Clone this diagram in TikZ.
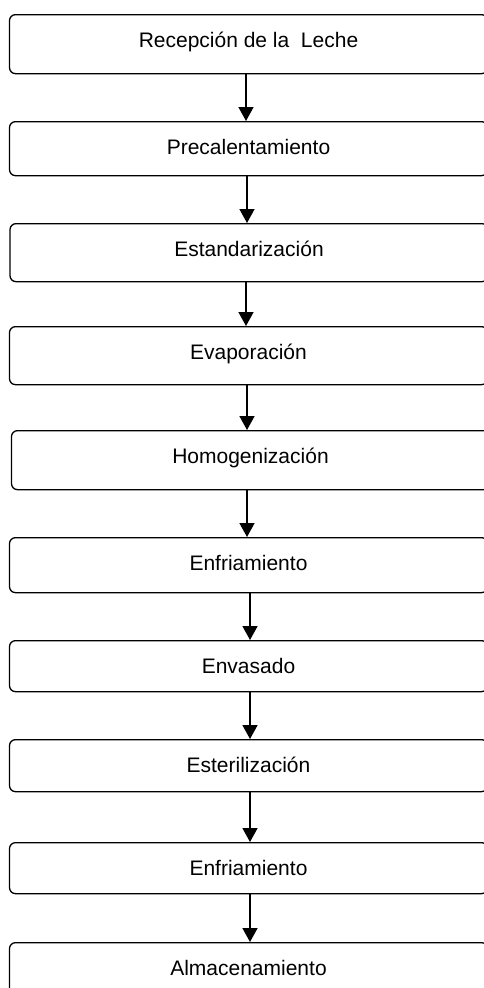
\documentclass[tikz,border=0pt]{standalone}
\usepackage{fontspec}
\setmainfont{Liberation Sans}
\usetikzlibrary{arrows.meta}
\tikzset{
  stage/.style={draw=black, line width=1.3pt, rounded corners=6pt, fill=white,
    minimum width=478pt, inner sep=0pt, anchor=north,
    text height=32.5pt, text depth=#1,
    font=\fontsize{21}{25}\selectfont},
  flow/.style={line width=1.6pt, -{Triangle[length=14pt,width=15pt]}}
}
\begin{document}
\begin{tikzpicture}[x=1pt,y=-1pt]
\clip (0,0) rectangle (484,988);
\fill[white] (0,0) rectangle (484,988);
\node[stage=26.5pt] (b1) at (248.5,14) {Recepción de la\ \ Leche};
\node[stage=21.5pt] (b2) at (248.5,121) {Precalentamiento};
\node[stage=25.5pt] (b3) at (249,223) {Estandarización};
\node[stage=25.5pt] (b4) at (248.5,326) {Evaporación};
\node[stage=26.5pt] (b5) at (250.5,430) {Homogenización};
\node[stage=22.5pt] (b6) at (248.5,537) {Enfriamiento};
\node[stage=18.5pt] (b7) at (248.5,640) {Envasado};
\node[stage=19.5pt] (b8) at (248.5,739) {Esterilización};
\node[stage=18.5pt] (b9) at (248.5,842) {Enfriamiento};
\node[stage=25.5pt] (b10) at (248.5,942) {Almacenamiento};
\draw[flow] (b1.south -| 246,0) -- (b2.north -| 246,0);
\draw[flow] (b2.south -| 247,0) -- (b3.north -| 247,0);
\draw[flow] (b3.south -| 246,0) -- (b4.north -| 246,0);
\draw[flow] (b4.south -| 247,0) -- (b5.north -| 247,0);
\draw[flow] (b5.south -| 247,0) -- (b6.north -| 247,0);
\draw[flow] (b6.south -| 250,0) -- (b7.north -| 250,0);
\draw[flow] (b7.south -| 250,0) -- (b8.north -| 250,0);
\draw[flow] (b8.south -| 250,0) -- (b9.north -| 250,0);
\draw[flow] (b9.south -| 250,0) -- (b10.north -| 250,0);
\end{tikzpicture}
\end{document}
